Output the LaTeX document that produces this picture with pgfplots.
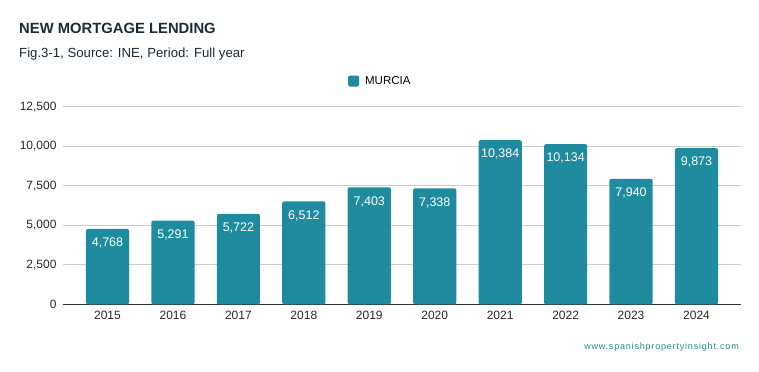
\documentclass[border=0pt]{standalone}
\usepackage{pgfplots}
\pgfplotsset{compat=1.18}
\usepackage{fontspec}
\setmainfont{Liberation Sans}
\definecolor{barc}{RGB}{30,140,158}
\definecolor{titlec}{RGB}{26,43,60}
\definecolor{gridc}{RGB}{204,204,204}
\begin{document}
\begin{tikzpicture}[x=1bp,y=1bp]
\useasboundingbox (0,0) rectangle (759,-371);
\node[anchor=base west,inner sep=0,text=titlec,font=\fontsize{14.8bp}{18bp}\selectfont\bfseries] at (19,-33) {NEW MORTGAGE LENDING};
\node[anchor=base west,inner sep=0,text=titlec!90!black,font=\fontsize{13.2bp}{16bp}\selectfont] at (19,-57) {Fig.3-1, Source: INE, Period: Full year};
\begin{axis}[
  at={(107.5bp,-304.3bp)}, anchor=origin,
  scale only axis, width=678bp, height=197.6bp,
  xmin=-0.68, xmax=9.68, ymin=0, ymax=12500,
  ybar, bar width=0.66,
  xtick=data, xticklabels={2015,2016,2017,2018,2019,2020,2021,2022,2023,2024},
  ytick={0,2500,5000,7500,10000,12500},
  scaled y ticks=false,
  /pgf/number format/.cd, fixed, 1000 sep={,}, assume math mode=true, /pgfplots/.cd,
  tick label style={font=\fontsize{12bp}{14bp}\selectfont, text=black!85},
  xticklabel style={yshift=-3.5bp},
  yticklabel style={xshift=-3bp},
  major tick length=0pt,
  axis x line*=bottom, axis y line*=left,
  x axis line style={draw=black!80, line width=0.9bp, -},
  y axis line style={draw=none},
  ymajorgrids, grid style={gridc, line width=0.8bp},
  nodes near coords,
  nodes near coords style={anchor=north, yshift=-5.5bp, text=white, font=\fontsize{12.5bp}{14bp}\selectfont},
  legend style={at={(0.468,1.13)}, anchor=center, draw=none, fill=none, font=\fontsize{11.5bp}{13bp}\selectfont, legend cell align=left},
  legend image code/.code={\fill[barc] (0bp,-5.5bp) rectangle (11bp,5.5bp); \path (0,0) -- (15bp,0);},
]
\addplot[fill=barc, draw=none, rounded corners=2bp] coordinates {
(0,4768) (1,5291) (2,5722) (3,6512) (4,7403) (5,7338) (6,10384) (7,10134) (8,7940) (9,9873)};
\addlegendentry{MURCIA}
\end{axis}
\node[anchor=base east,inner sep=0,text=barc,font=\fontsize{9bp}{11bp}\selectfont\addfontfeature{LetterSpace=9}] at (739,-349) {www.spanishpropertyinsight.com};
\end{tikzpicture}
\end{document}
